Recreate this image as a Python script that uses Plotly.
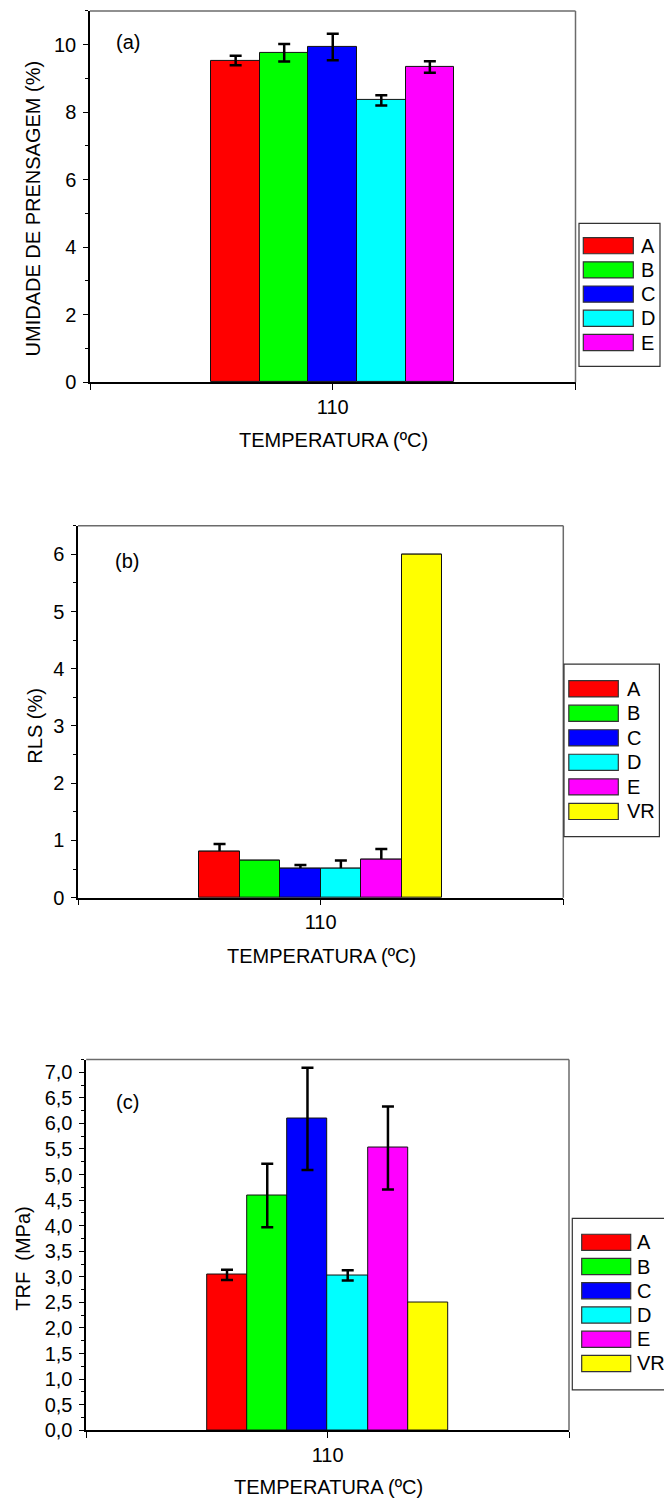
import plotly.graph_objects as go

W, H = 664, 1510
FONT = "Arial, Liberation Sans, Helvetica, sans-serif"
FS = 20

# ---- data ---------------------------------------------------------------
temperature_label = "110"
samples_a = ["A", "B", "C", "D", "E"]
samples_bc = ["A", "B", "C", "D", "E", "VR"]
sample_colors = {"A": "#FF0000", "B": "#00FF00", "C": "#0000FF",
                 "D": "#00FFFF", "E": "#FF00FF", "VR": "#FFFF00"}

umidade = [9.53, 9.76, 9.93, 8.35, 9.34]
umidade_err = [0.14, 0.26, 0.39, 0.15, 0.17]

rls = [0.80, 0.65, 0.50, 0.51, 0.67, 6.0]
rls_err = [0.14, 0.0, 0.07, 0.14, 0.18, 0.0]

trf = [3.04, 4.59, 6.09, 3.03, 5.52, 2.50]
trf_err = [0.10, 0.62, 1.00, 0.10, 0.81, 0.0]

# ---- panel boxes in pixels: left, right, top, bottom ---------------------
panels = {
    "a": dict(box=(90, 575.5, 11, 385), yrange=[0, 11], dtick=2, minor=1, fmt="d"),
    "b": dict(box=(78, 563.3, 529.5, 904.3), yrange=[0, 6.5], dtick=1, minor=0.5, fmt="d"),
    "c": dict(box=(86.2, 569, 1067.3, 1440.7), yrange=[0, 7.25], dtick=0.5, minor=0.25, fmt=".1f"),
}


def px_x(x):
    return x / W


def px_y(y):
    return 1 - y / H


fig = go.Figure()


def bar_style(name):
    return dict(color=sample_colors[name], line=dict(color="#111111", width=1))


# (a) and (c): error bars drawn over the bars
for xa, ya, names, vals, errs in [("x", "y", samples_a, umidade, umidade_err),
                                  ("x3", "y3", samples_bc, trf, trf_err)]:
    for name, v, e in zip(names, vals, errs):
        fig.add_trace(go.Bar(
            x=[0], y=[v], name=name, xaxis=xa, yaxis=ya, showlegend=False,
            marker=bar_style(name),
            error_y=dict(type="data", array=[e], visible=e > 0, color="black",
                         thickness=2.5, width=6),
        ))

# (b): error bars sit behind the bars, so only the upper half shows
for name, v, e in zip(samples_bc, rls, rls_err):
    fig.add_trace(go.Bar(
        x=[0], y=[v], name=name, xaxis="x2", yaxis="y2", showlegend=False,
        marker=bar_style(name),
        error_y=dict(type="data", array=[e], visible=e > 0, color="black",
                     thickness=2.5, width=6),
    ))
for name, v in zip(samples_bc, rls):
    fig.add_trace(go.Bar(
        x=[0], y=[v], name=name, xaxis="x4", yaxis="y2", showlegend=False,
        marker=bar_style(name), hoverinfo="skip",
    ))

layout = dict(
    width=W, height=H, margin=dict(l=0, r=0, t=0, b=0),
    paper_bgcolor="white", plot_bgcolor="white",
    barmode="group", bargap=0, bargroupgap=0,
    separators=",.",
    font=dict(family=FONT, size=FS, color="black"),
    showlegend=False,
)

shapes = []
annotations = []

for i, key in enumerate(["a", "b", "c"], start=1):
    p = panels[key]
    l, r, t, b = p["box"]
    xname = "xaxis" if i == 1 else f"xaxis{i}"
    yname = "yaxis" if i == 1 else f"yaxis{i}"
    xa = "x" if i == 1 else f"x{i}"
    ya = "y" if i == 1 else f"y{i}"
    layout[xname] = dict(
        domain=[px_x(l), px_x(r)], anchor=ya, range=[-1, 1],
        tickvals=[-1, 0, 1], ticktext=["", temperature_label, ""],
        ticks="outside", ticklen=6, tickwidth=1.3, tickcolor="black",
        showline=True, linecolor="black", linewidth=1.5,
        showgrid=False, zeroline=False, fixedrange=True,
        tickfont=dict(family=FONT, size=FS),
    )
    layout[yname] = dict(
        domain=[px_y(b), px_y(t)], anchor=xa, range=p["yrange"],
        dtick=p["dtick"], tick0=0, tickformat=p["fmt"],
        ticks="outside", ticklen=5, tickwidth=1.3, tickcolor="black",
        minor=dict(dtick=p["minor"], ticks="outside", ticklen=3.5,
                   tickwidth=1.3, tickcolor="black", showgrid=False),
        showline=True, linecolor="black", linewidth=1.5,
        showgrid=False, zeroline=False, fixedrange=True,
        ticklabelstandoff=3,
        tickfont=dict(family=FONT, size=FS),
    )
    # grey frame on top and right
    shapes.append(dict(type="line", xref="paper", yref="paper",
                       x0=px_x(l), x1=px_x(r), y0=px_y(t), y1=px_y(t),
                       line=dict(color="#6b6b6b", width=1.5)))
    shapes.append(dict(type="line", xref="paper", yref="paper",
                       x0=px_x(r), x1=px_x(r), y0=px_y(t), y1=px_y(b),
                       line=dict(color="#6b6b6b", width=1.5)))

# overlay axis for the front bars of (b)
layout["xaxis4"] = dict(overlaying="x2", anchor="y2", range=[-1, 1], visible=False,
                        fixedrange=True)

# panel tags
for tag, (x, y) in {"(a)": (114, 42), "(b)": (113, 565), "(c)": (114, 1110)}.items():
    annotations.append(dict(text=tag, xref="paper", yref="paper", x=px_x(x), y=px_y(y),
                            xanchor="left", yanchor="middle", showarrow=False,
                            font=dict(family=FONT, size=FS)))

# axis titles
ytitles = [("UMIDADE DE PRENSAGEM (%)", 33, 210), ("RLS (%)", 35, 731),
           ("TRF \u00a0(MPa)", 23, 1268)]
for text, x, y in ytitles:
    annotations.append(dict(text=text, xref="paper", yref="paper", x=px_x(x), y=px_y(y),
                            xanchor="center", yanchor="middle", textangle=-90,
                            showarrow=False, font=dict(family=FONT, size=FS)))
for x, y in [(333, 443), (321, 963), (328, 1498)]:
    annotations.append(dict(text="TEMPERATURA (ºC)", xref="paper", yref="paper",
                            x=px_x(x), y=px_y(y), xanchor="center", yanchor="middle",
                            showarrow=False, font=dict(family=FONT, size=FS)))

# legends: box (l, r, t, b), swatch x0, x1, first swatch top, step, text x
legend_specs = [
    (samples_a, (579, 660, 225, 369), 583.3, 633.3, 239.3, 24.4, 639),
    (samples_bc, (564, 659.4, 669, 842.7), 568.8, 618.3, 685.7, 24.7, 624.7),
    (samples_bc, (572.3, 700, 1227.3, 1400), 581.7, 630.7, 1243.3, 24.4, 635),
]
for names, (bl, br, bt, bb), sx0, sx1, sy0, step, tx in legend_specs:
    shapes.append(dict(type="rect", xref="paper", yref="paper",
                       x0=px_x(bl), x1=px_x(br), y0=px_y(bb), y1=px_y(bt),
                       line=dict(color="#333333", width=1.2), fillcolor="white"))
    for k, name in enumerate(names):
        top = sy0 + k * step
        shapes.append(dict(type="rect", xref="paper", yref="paper",
                           x0=px_x(sx0), x1=px_x(sx1), y0=px_y(top + 16.3), y1=px_y(top),
                           line=dict(color="#333333", width=1.2),
                           fillcolor=sample_colors[name]))
        annotations.append(dict(text=name, xref="paper", yref="paper",
                                x=px_x(tx), y=px_y(top + 8.2), xanchor="left",
                                yanchor="middle", showarrow=False,
                                font=dict(family=FONT, size=FS)))

layout["shapes"] = shapes
layout["annotations"] = annotations
fig.update_layout(**layout)

fig.write_html("out.html", include_plotlyjs=True, config={"displayModeBar": False})
